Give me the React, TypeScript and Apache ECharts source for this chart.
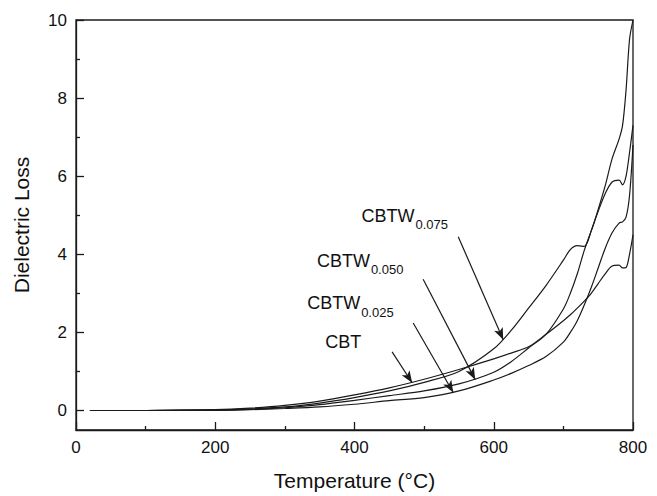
import React, { useEffect, useRef } from 'react';
import * as echarts from 'echarts';

const temps = [20, 100, 200, 250, 300, 350, 400, 450, 500, 550, 600, 625, 650, 675, 700, 710, 720, 730, 740, 750, 760, 770, 780, 785, 790, 795, 800];
const cbt = [0, 0, 0.02, 0.06, 0.13, 0.24, 0.4, 0.58, 0.8, 1.05, 1.32, 1.47, 1.63, 1.95, 2.3, 2.45, 2.62, 2.8, 3.0, 3.25, 3.5, 3.7, 3.72, 3.65, 3.66, 4.0, 4.5];
const cbtw025 = [0, 0, 0.005, 0.02, 0.05, 0.09, 0.16, 0.25, 0.33, 0.5, 0.78, 0.95, 1.15, 1.38, 1.75, 2.0, 2.3, 2.7, 3.15, 3.65, 4.15, 4.55, 4.8, 4.83, 4.95, 5.5, 6.8];
const cbtw050 = [0, 0, 0.01, 0.03, 0.07, 0.15, 0.26, 0.38, 0.5, 0.68, 0.98, 1.25, 1.6, 1.95, 2.6, 3.0, 3.5, 4.1, 4.6, 5.1, 5.55, 5.85, 5.9, 5.78, 6.0, 6.6, 7.3];
const cbtw075 = [0, 0, 0.01, 0.04, 0.09, 0.19, 0.33, 0.5, 0.72, 1.0, 1.58, 2.05, 2.62, 3.2, 3.85, 4.12, 4.22, 4.2, 4.6, 5.15, 5.75, 6.45, 6.95, 7.3, 8.2, 9.5, 10];

const yMajorTicks = [0, 2, 4, 6, 8, 10];
const yMinorTicks = [1, 3, 5, 7, 9];

// annotations (data coordinates)
const annoMain = ['CBTW', 'CBTW', 'CBTW', 'CBT'];
const annoSub = ['0.075', '0.050', '0.025', ''];
const annoTextAt = [[410, 4.99], [346, 3.84], [332, 2.75], [358, 1.76]];
const annoFrom = [[549, 4.45], [498.6, 3.36], [484.3, 2.24], [454, 1.5]];
const annoTo = [[613.6, 1.81], [573.4, 0.79], [541.8, 0.46], [482.8, 0.71]];

const FONT = '"Liberation Sans", Arial, Helvetica, sans-serif';
const INK = '#1a1a1a';

function measure(text: string, size: number): number {
  const c = document.createElement('canvas').getContext('2d');
  if (!c) return text.length * size * 0.6;
  c.font = `${size}px ${FONT}`;
  return c.measureText(text).width;
}

export default function App() {
  const ref = useRef<HTMLDivElement>(null);
  useEffect(() => {
    if (!ref.current) return;
    const chart = echarts.init(ref.current, null, { renderer: 'svg' });
    const mkSeries = (name: string, vals: number[], idx: number) => ({
      name,
      type: 'line',
      data: temps.map((t, i) => [t, vals[i]]),
      showSymbol: false,
      smooth: 0.3,
      clip: true,
      lineStyle: { color: INK, width: 1.2 },
      markLine: {
        silent: true,
        symbol: ['none', 'arrow'],
        symbolSize: [7, 12],
        lineStyle: { color: INK, width: 1.2, type: 'solid' },
        itemStyle: { color: INK },
        label: { show: false },
        data: [[{ coord: annoFrom[idx] }, { coord: annoTo[idx] }]],
      },
    });
    const option: any = {
      animation: false,
      backgroundColor: '#ffffff',
      grid: { left: 76, right: 24, top: 20, bottom: 63, show: true, borderColor: INK, borderWidth: 1.3, backgroundColor: 'transparent' },
      xAxis: {
        type: 'value', min: 0, max: 800, interval: 200,
        axisLine: { show: true, onZero: false, lineStyle: { color: INK, width: 1.3 } },
        axisTick: { show: true, inside: true, length: 8, lineStyle: { color: INK, width: 1.3 } },
        minorTick: { show: true, splitNumber: 2, length: 4, lineStyle: { color: INK, width: 1.3 } },
        splitLine: { show: false },
        axisLabel: { color: '#111', fontSize: 17, fontFamily: FONT, margin: 9 },
        name: 'Temperature (°C)', nameLocation: 'middle', nameGap: 40,
        nameTextStyle: { color: '#111', fontSize: 21, fontFamily: FONT },
      },
      yAxis: [
        {
          type: 'value', min: -0.5, max: 10, position: 'left',
          axisLine: { show: true, onZero: false, lineStyle: { color: INK, width: 1.3 } },
          axisTick: { show: true, inside: true, length: 8, customValues: yMajorTicks, lineStyle: { color: INK, width: 1.3 } },
          splitLine: { show: false },
          axisLabel: { color: '#111', fontSize: 17, fontFamily: FONT, margin: 9, customValues: yMajorTicks },
          name: 'Dielectric Loss', nameLocation: 'middle', nameGap: 44,
          nameTextStyle: { color: '#111', fontSize: 21, fontFamily: FONT },
        },
        {
          type: 'value', min: -0.5, max: 10, position: 'left', offset: 0,
          axisLine: { show: false },
          axisTick: { show: true, inside: true, length: 4, customValues: yMinorTicks, lineStyle: { color: INK, width: 1.3 } },
          axisLabel: { show: false },
          splitLine: { show: false },
        },
      ],
      series: [
        mkSeries('CBTW0.075', cbtw075, 0),
        mkSeries('CBTW0.050', cbtw050, 1),
        mkSeries('CBTW0.025', cbtw025, 2),
        mkSeries('CBT', cbt, 3),
      ],
    };
    chart.setOption(option);
    const graphics: any[] = [];
    annoMain.forEach((m, i) => {
      const p = chart.convertToPixel({ gridIndex: 0 }, annoTextAt[i]) as number[];
      graphics.push({
        type: 'text', x: p[0], y: p[1],
        style: { text: m, fill: '#111', font: `18px ${FONT}`, align: 'left', verticalAlign: 'middle' },
      });
      if (annoSub[i]) {
        const w = measure(m, 18);
        graphics.push({
          type: 'text', x: p[0] + w + 1, y: p[1] + 9,
          style: { text: annoSub[i], fill: '#111', font: `13px ${FONT}`, align: 'left', verticalAlign: 'middle' },
        });
      }
    });
    chart.setOption({ graphic: graphics });
    return () => chart.dispose();
  }, []);
  return <div ref={ref} style={{ position: 'absolute', left: 0, top: 0, width: 657, height: 496 }} />;
}
